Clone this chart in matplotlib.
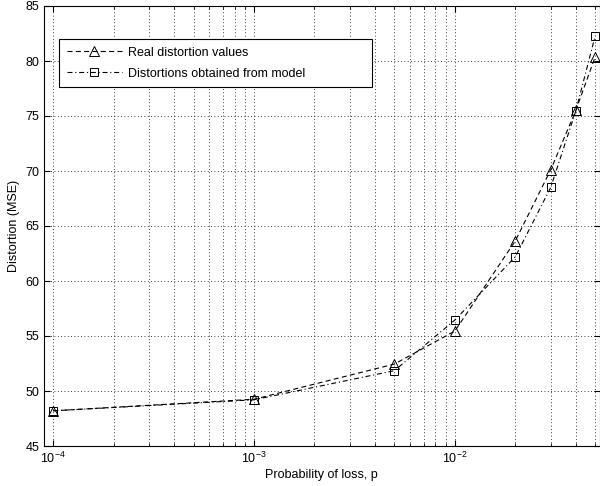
import numpy as np
import matplotlib
matplotlib.use('Agg')
import matplotlib.pyplot as plt
from matplotlib.ticker import LogLocator, MultipleLocator

plt.rcParams['font.family'] = ['Liberation Sans', 'DejaVu Sans']
plt.rcParams['mathtext.fontset'] = 'custom'
plt.rcParams['mathtext.rm'] = 'Liberation Sans'
plt.rcParams['font.size'] = 9

# loss probabilities and the measured / modelled MSE
p_loss = [1e-4, 1e-3, 5e-3, 1e-2, 2e-2, 3e-2, 4e-2, 5e-2]
mse_real = [48.2, 49.25, 52.45, 55.45, 63.65, 70.1, 75.5, 80.4]
mse_model = [48.2, 49.2, 51.85, 56.45, 62.2, 68.5, 75.45, 82.3]

fig = plt.figure(figsize=(6, 4.86), dpi=100)
ax = fig.add_axes([44/600, 40/486, 555.5/600, 440/486])

dash_real = (4.5, 3)
dash_model = (4.5, 2.5, 1, 2.5)
h1, = ax.plot(p_loss, mse_real, 'k--', marker='^', ms=7, mfc='none', mew=0.7,
              lw=0.8, dashes=dash_real)
h2, = ax.plot(p_loss, mse_model, 'k-.', marker='s', ms=5.5, mfc='none', mew=0.7,
              lw=0.8, dashes=dash_model)

leg = ax.legend([h1, h2], ['Real distortion values', 'Distortions obtained from model'],
                loc='upper left', bbox_to_anchor=(15/555.5, 0, 313/555.5, 1 - 33/440),
                mode='expand', fancybox=False, edgecolor='k', framealpha=1,
                handlelength=4.4, borderpad=0.6, labelspacing=0.75,
                handletextpad=0.5, fontsize=9, borderaxespad=0)
leg.get_frame().set_linewidth(0.8)

ax.set_xscale('log')
ax.set_xlim(9.0e-5, 0.0525)
ax.set_ylim(45, 85)
ax.yaxis.set_major_locator(MultipleLocator(5))
ax.xaxis.set_major_locator(LogLocator(base=10, numticks=10))
ax.xaxis.set_minor_locator(LogLocator(base=10, subs=np.arange(2, 10), numticks=20))

gdots = (0, (1, 3))
ax.grid(True, which='major', ls=gdots, color='k', lw=0.6)
ax.grid(True, which='minor', axis='x', ls=gdots, color='k', lw=0.6)
ax.tick_params(which='both', direction='in', top=True, right=True, labelsize=9)
ax.tick_params(which='major', length=4)
ax.tick_params(which='minor', length=2)
for s in ax.spines.values():
    s.set_linewidth(0.8)

ax.set_xlabel('Probability of loss, p', fontsize=9, labelpad=2)
ax.set_ylabel('Distortion (MSE)', fontsize=9, labelpad=4)

fig.savefig('out.png', dpi=100)
